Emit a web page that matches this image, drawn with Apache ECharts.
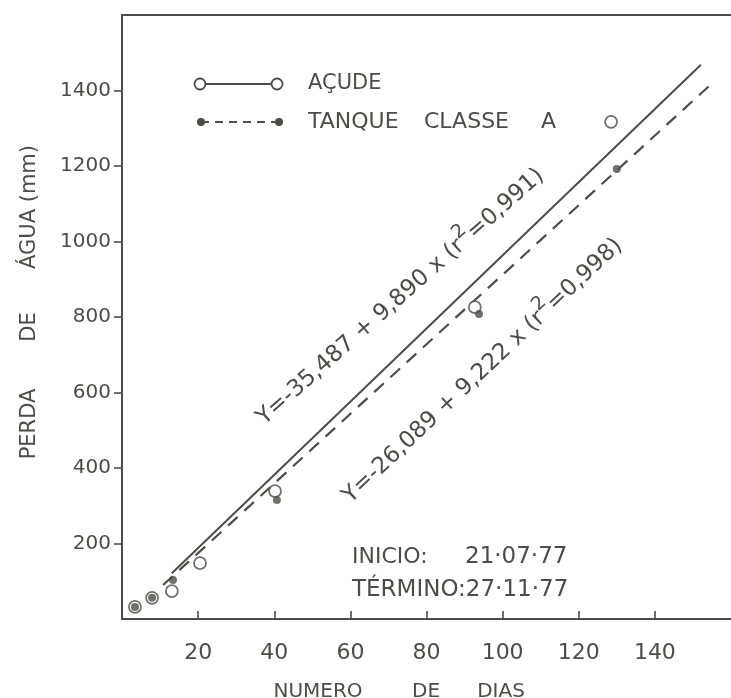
<!DOCTYPE html>
<html>
<head>
<meta charset="utf-8">
<script src="https://cdn.jsdelivr.net/npm/echarts@6/dist/echarts.min.js"></script>
<style>
html,body{margin:0;padding:0;background:#ffffff;}
#chart{width:731px;height:698px;}
</style>
</head>
<body>
<div id="chart"></div>
<script>
// ---- data ----
const acudeX = [3.4, 7.9, 13.1, 20.5, 40.2, 92.7, 128.5];
const acudeY = [32, 56, 74, 148, 339, 826, 1317];
const tanqueX = [3.4, 7.9, 13.4, 40.7, 93.8, 130.0];
const tanqueY = [32, 56, 103, 315, 808, 1192];
const acudeFitX = [13.1, 152.1];
const acudeFitY = [121, 1468];
const tanqueFitX = [10.8, 154.8];
const tanqueFitY = [90, 1417];
const xTickValues = [20, 40, 60, 80, 100, 120, 140];
const yTickValues = [200, 400, 600, 800, 1000, 1200, 1400];
const legendNames = ['AÇUDE', 'TANQUE CLASSE A'];
const eq1 = ['Y=-35,487 + 9,890 x (r', '2', '=0,991)'];
const eq2 = ['Y=-26,089 + 9,222 x (r', '2', '=0,998)'];
const startLabel = ['INICIO:', '21·07·77'];
const endLabel = 'TÉRMINO:27·11·77';

const ink = '#4d4d47';
const font = 'DejaVu Sans';

const zip = (xs, ys) => xs.map((x, i) => [x, ys[i]]);

const chart = echarts.init(document.getElementById('chart'));

function eqText(parts, cx, cy, angleDeg) {
  return {
    type: 'text', x: cx, y: cy, rotation: angleDeg * Math.PI / 180, z: 10,
    style: {
      text: '{a|' + parts[0] + '}{s|' + parts[1] + '}{a|' + parts[2] + '}',
      align: 'center', verticalAlign: 'middle',
      rich: {
        a: { fontFamily: font, fontSize: 23, fill: ink, lineHeight: 31, verticalAlign: 'bottom' },
        s: { fontFamily: font, fontSize: 19, fill: ink, lineHeight: 31, verticalAlign: 'top' }
      }
    }
  };
}

function txt(t, x, y, size, align, rot) {
  return {
    type: 'text', x: x, y: y, rotation: rot || 0, z: 10,
    style: { text: t, fontFamily: font, fontSize: size, fill: ink, align: align || 'left', verticalAlign: 'middle' }
  };
}

const legendWords = legendNames[1].split(' ');

const option = {
  backgroundColor: '#ffffff',
  animation: false,
  grid: { left: 122, right: 0, top: 15, bottom: 79 },
  xAxis: [{
    type: 'value', min: 0, max: 160, interval: 20,
    splitLine: { show: false },
    axisLine: { show: true, lineStyle: { color: ink, width: 2 } },
    axisTick: { show: true, inside: true, length: 8, customValues: xTickValues, lineStyle: { color: ink, width: 1.6 } },
    axisLabel: { customValues: xTickValues, margin: 23, fontFamily: font, fontSize: 22, color: ink, formatter: v => String(v) }
  }, {
    type: 'value', min: 0, max: 160, position: 'top',
    splitLine: { show: false },
    axisLine: { show: true, onZero: false, lineStyle: { color: ink, width: 2 } },
    axisTick: { show: false }, axisLabel: { show: false }
  }],
  yAxis: {
    type: 'value', min: 0, max: 1600, interval: 200,
    splitLine: { show: false },
    axisLine: { show: true, lineStyle: { color: ink, width: 2 } },
    axisTick: { show: true, inside: false, length: 8, customValues: yTickValues, lineStyle: { color: ink, width: 1.6 } },
    axisLabel: { customValues: yTickValues, margin: 11, fontFamily: font, fontSize: 20, color: ink, formatter: v => String(v) }
  },
  series: [
    {
      name: 'acudeFit', type: 'line', data: zip(acudeFitX, acudeFitY), showSymbol: false, z: 2,
      lineStyle: { color: ink, width: 2 }
    },
    {
      name: 'tanqueFit', type: 'line', data: zip(tanqueFitX, tanqueFitY), showSymbol: false, z: 2,
      lineStyle: { color: ink, width: 2.2, type: [13, 9] }
    },
    {
      name: legendNames[0], type: 'scatter', data: zip(acudeX, acudeY), symbol: 'circle', symbolSize: 12, z: 3,
      itemStyle: { color: '#ffffff', borderColor: ink, borderWidth: 1.8 }
    },
    {
      name: legendNames[1], type: 'scatter', data: zip(tanqueX, tanqueY), symbol: 'circle', symbolSize: 8, z: 4,
      itemStyle: { color: ink }
    }
  ],
  graphic: [
    // legend
    { type: 'line', shape: { x1: 200, y1: 84, x2: 277, y2: 84 }, style: { stroke: ink, lineWidth: 2 }, z: 10 },
    { type: 'circle', shape: { cx: 200, cy: 84, r: 5.5 }, style: { fill: '#fff', stroke: ink, lineWidth: 1.8 }, z: 11 },
    { type: 'circle', shape: { cx: 277, cy: 84, r: 5.5 }, style: { fill: '#fff', stroke: ink, lineWidth: 1.8 }, z: 11 },
    txt(legendNames[0], 308, 84, 21),
    { type: 'line', shape: { x1: 201, y1: 122, x2: 279, y2: 122 }, style: { stroke: ink, lineWidth: 2, lineDash: [8, 6] }, z: 10 },
    { type: 'circle', shape: { cx: 201, cy: 122, r: 4 }, style: { fill: ink }, z: 11 },
    { type: 'circle', shape: { cx: 279, cy: 122, r: 4 }, style: { fill: ink }, z: 11 },
    txt(legendWords[0], 308, 122, 22),
    txt(legendWords[1], 424, 122, 22),
    txt(legendWords[2], 541, 122, 22),
    // equations
    eqText(eq1, 398, 294, 41.5),
    eqText(eq2, 480, 368, 43.3),
    // dates
    txt(startLabel[0], 352, 557, 22),
    txt(startLabel[1], 465, 557, 23),
    txt(endLabel, 352, 590, 23),
    // axis titles
    txt('NUMERO', 318, 692, 20, 'center'),
    txt('DE', 426, 692, 20, 'center'),
    txt('DIAS', 501, 692, 20, 'center'),
    txt('PERDA', 30, 424, 21, 'center', Math.PI / 2),
    txt('DE', 30, 327, 21, 'center', Math.PI / 2),
    txt('ÁGUA (mm)', 30, 207, 21, 'center', Math.PI / 2)
  ]
};
chart.setOption(option);
</script>
</body>
</html>
